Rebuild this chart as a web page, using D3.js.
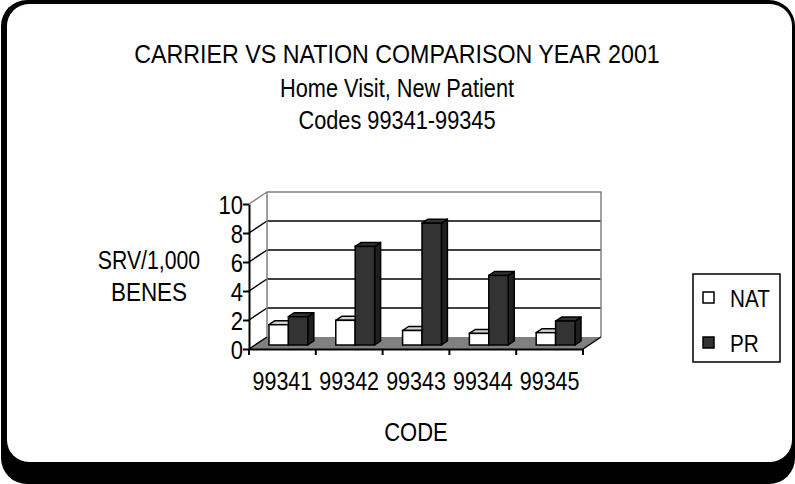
<!DOCTYPE html>
<html>
<head>
<meta charset="utf-8">
<script src="https://cdn.jsdelivr.net/npm/d3@7"></script>
<style>
  html, body { margin: 0; padding: 0; background: #fff; }
  svg text { font-family: "Liberation Sans", Arial, sans-serif; fill: #000; }
</style>
</head>
<body>
<div id="chart"></div>
<script>
// chart data
const codes = ["99341", "99342", "99343", "99344", "99345"];
const seriesNames = ["NAT", "PR"];
const natValues = [1.4, 1.7, 1.0, 0.8, 0.85];
const prValues = [1.95, 6.8, 8.4, 4.8, 1.65];
const yTicks = [0, 2, 4, 6, 8, 10];
const titleLines = ["CARRIER VS NATION COMPARISON YEAR 2001", "Home Visit, New Patient", "Codes 99341-99345"];

const W = 795, H = 484;
const DX = 18, DY = -12;          // depth offset of the back wall
const NARROW = 0.88;              // squeeze to mimic a narrow face
const colors = {NAT: "#ffffff", PR: "#333333"};
const topColors = {NAT: "#d4d4d4", PR: "#333333"};
const sideColors = {NAT: "#e6e6e6", PR: "#1f1f1f"};

const svg = d3.select("#chart")
  .append("svg")
    .attr("width", W)
    .attr("height", H)
    .attr("viewBox", `0 0 ${W} ${H}`);

// text helper, narrow by horizontal scale
function label(x, y, txt, size, sx) {
  return svg.append("text")
    .attr("transform", `translate(${x}, ${y}) scale(${sx || NARROW}, 1)`)
    .attr("text-anchor", "middle")
    .style("font-size", size + "px")
    .text(txt);
}

// frame with shadow
svg.append("rect")
  .attr("x", 1).attr("y", 0).attr("width", 794).attr("height", 484)
  .attr("rx", 26).attr("ry", 26)
  .attr("fill", "#000");
svg.append("rect")
  .attr("x", 7).attr("y", 4).attr("width", 785).attr("height", 458)
  .attr("rx", 22).attr("ry", 22)
  .attr("fill", "#fff");

// titles
titleLines.forEach((t, i) => label(397, [63, 97, 129][i], t, 25, i === 0 ? 0.93 : 0.87));

// scales
const xScale = d3.scaleBand().domain(codes).range([249, 583]);
const yScale = d3.scaleLinear().domain([0, 10]).range([349, 204]);
const xSub = d3.scaleBand().domain(seriesNames).range([0, xScale.bandwidth()]).paddingOuter(0.72);

const x0 = xScale.range()[0], x1 = xScale.range()[1];
const g = svg.append("g");

// floor
g.append("polygon")
  .attr("points", [[x0, yScale(0)], [x1, yScale(0)], [x1 + DX, yScale(0) + DY], [x0 + DX, yScale(0) + DY]].join(" "))
  .attr("fill", "#808080");

// back wall gridlines
g.selectAll(".grid")
  .data(yTicks.filter(d => d > 0 && d < 10))
  .enter()
  .append("line")
    .attr("x1", x0 + DX).attr("x2", x1 + DX)
    .attr("y1", d => yScale(d) + DY).attr("y2", d => yScale(d) + DY)
    .attr("stroke", "#000").attr("stroke-width", 1.5);

// side wall gridlines
g.selectAll(".sgrid")
  .data(yTicks)
  .enter()
  .append("line")
    .attr("x1", x0).attr("x2", x0 + DX)
    .attr("y1", d => yScale(d)).attr("y2", d => yScale(d) + DY)
    .attr("stroke", d => d === 10 ? "#808080" : "#000").attr("stroke-width", 1.5);

// back wall border
g.append("polyline")
  .attr("points", [[x0 + DX, yScale(0) + DY], [x0 + DX, yScale(10) + DY], [x1 + DX, yScale(10) + DY], [x1 + DX, yScale(0) + DY]].join(" "))
  .attr("fill", "none").attr("stroke", "#808080").attr("stroke-width", 1.5);

// floor right edge
g.append("line")
  .attr("x1", x1).attr("y1", yScale(0)).attr("x2", x1 + DX).attr("y2", yScale(0) + DY)
  .attr("stroke", "#000").attr("stroke-width", 1.5);

// bars
const z0 = 1 / 3, z1 = 2 / 3;
const bdx = (z1 - z0) * DX, bdy = (z1 - z0) * DY;
const barData = [];
codes.forEach((c, i) => {
  barData.push({code: c, s: "NAT", v: natValues[i]});
  barData.push({code: c, s: "PR", v: prValues[i]});
});

const bars = g.selectAll(".bar")
  .data(barData)
  .enter()
  .append("g")
    .attr("class", "bar");

bars.each(function(d) {
  const bx0 = xScale(d.code) + xSub(d.s) + z0 * DX;
  const bx1 = bx0 + xSub.bandwidth();
  const yt = yScale(d.v) + z0 * DY;
  const yb = yScale(0) + z0 * DY;
  const el = d3.select(this);
  el.append("polygon")
    .attr("points", [[bx1, yt], [bx1 + bdx, yt + bdy], [bx1 + bdx, yb + bdy], [bx1, yb]].join(" "))
    .attr("fill", sideColors[d.s]).attr("stroke", "#000").attr("stroke-width", 1.5).attr("stroke-linejoin", "round");
  el.append("polygon")
    .attr("points", [[bx0, yt], [bx1, yt], [bx1 + bdx, yt + bdy], [bx0 + bdx, yt + bdy]].join(" "))
    .attr("fill", topColors[d.s]).attr("stroke", "#000").attr("stroke-width", 1.5).attr("stroke-linejoin", "round");
  el.append("rect")
    .attr("x", bx0).attr("y", yt).attr("width", bx1 - bx0).attr("height", yb - yt)
    .attr("fill", colors[d.s]).attr("stroke", "#000").attr("stroke-width", 1.5);
});

// axes
const yAxis = svg.append("g")
  .attr("transform", `translate(${x0}, 0)`)
  .call(d3.axisLeft(yScale).tickValues(yTicks).tickSize(6).tickPadding(0).tickSizeOuter(0));
const xAxis = svg.append("g")
  .attr("transform", `translate(0, ${yScale(0)})`)
  .call(d3.axisBottom(xScale).tickSize(0).tickPadding(0));

[yAxis, xAxis].forEach(ax => {
  ax.select(".domain").attr("stroke", "#000").attr("stroke-width", 2);
  ax.selectAll("line").attr("stroke", "#000").attr("stroke-width", 2);
  ax.selectAll("text").style("font-size", "25px").attr("fill", "#000")
    .style("font-family", '"Liberation Sans", Arial, sans-serif');
});
yAxis.selectAll("text").attr("x", 0).attr("dy", "0.36em")
  .attr("transform", `translate(-6, 0) scale(${NARROW}, 1)`);
xAxis.selectAll("text").attr("y", 0).attr("dy", "0.71em")
  .attr("transform", `translate(0, 23) scale(0.86, 1)`);

// category boundary ticks on the x axis
svg.selectAll(".xtick")
  .data(codes.concat(["end"]))
  .enter()
  .append("line")
    .attr("x1", (d, i) => x0 + i * xScale.step())
    .attr("x2", (d, i) => x0 + i * xScale.step())
    .attr("y1", yScale(0)).attr("y2", yScale(0) + 6)
    .attr("stroke", "#000").attr("stroke-width", 2);

// axis titles
label(149, 269, "SRV/1,000", 25, 0.85);
label(149, 301, "BENES", 25, 0.9);
label((x0 + x1) / 2, 441, "CODE", 25, 0.88);

// legend
const legend = svg.append("g");
legend.append("rect")
  .attr("x", 693).attr("y", 274).attr("width", 87).attr("height", 88)
  .attr("fill", "#fff").attr("stroke", "#000").attr("stroke-width", 1.5);
const li = legend.selectAll(".li")
  .data(seriesNames)
  .enter()
  .append("g")
    .attr("transform", (d, i) => `translate(703, ${292 + i * 45})`);
li.append("rect")
  .attr("width", 11).attr("height", 11)
  .attr("fill", d => colors[d]).attr("stroke", "#000").attr("stroke-width", 1.5);
li.append("text")
  .attr("transform", `translate(27, 15) scale(0.9, 1)`)
  .style("font-size", "23px")
  .text(d => d);
</script>
</body>
</html>
